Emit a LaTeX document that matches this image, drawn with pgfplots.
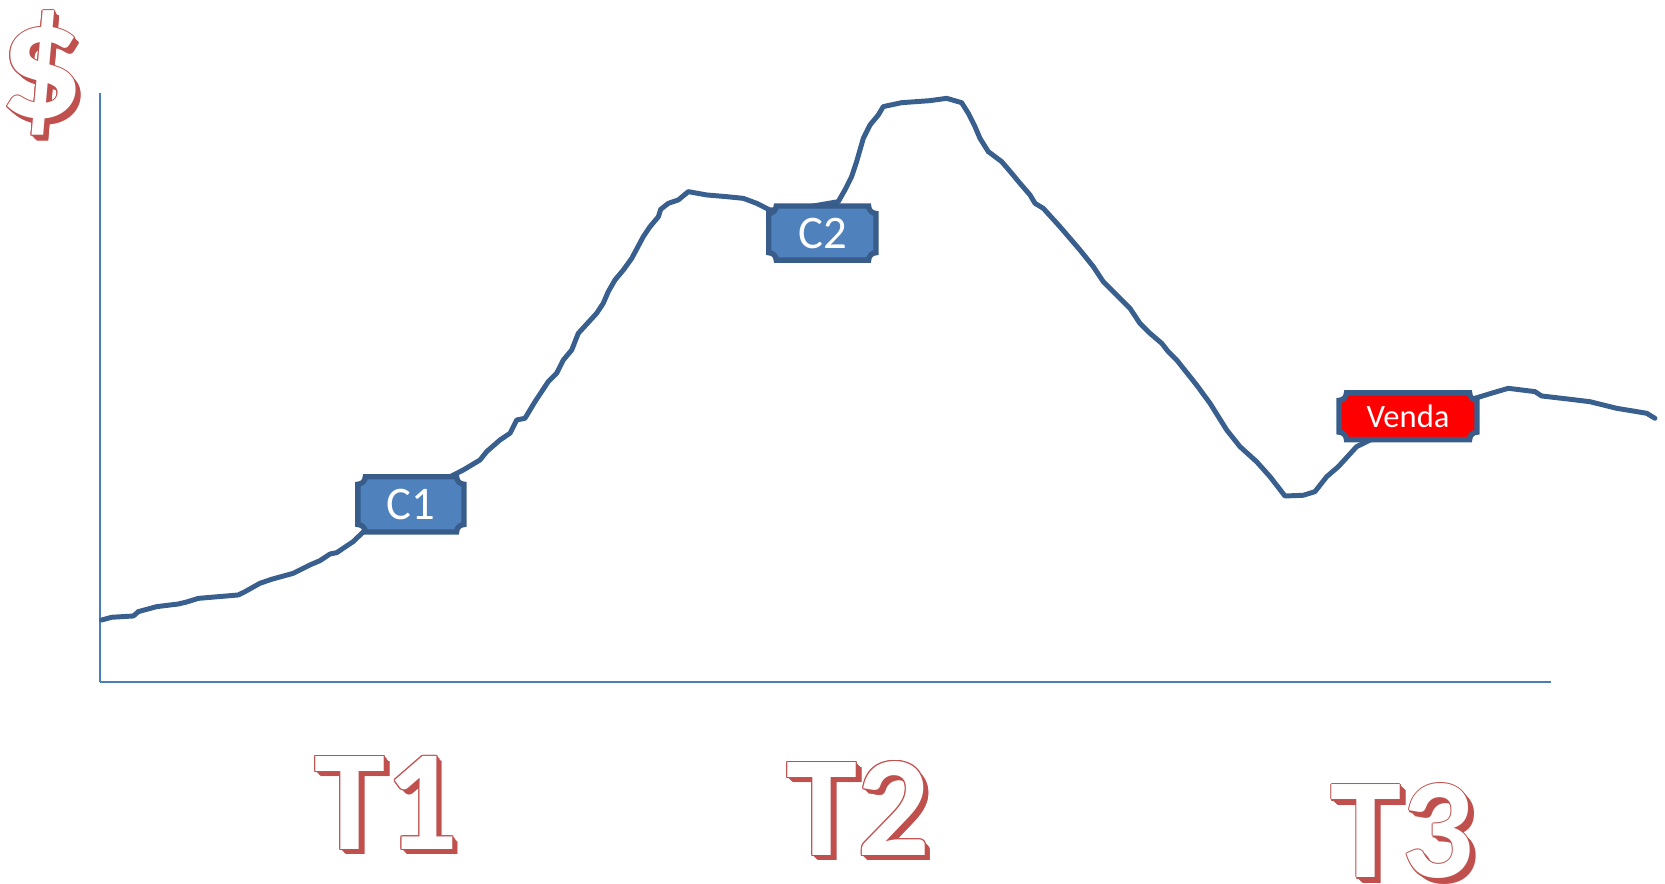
\documentclass[border=0pt]{standalone}
\usepackage{pgfplots}
\pgfplotsset{compat=1.18}
\usepackage{fontspec}
\setmainfont{Carlito}
\usetikzlibrary{calc}

\definecolor{lineblue}{RGB}{57,95,142}
\definecolor{boxline}{RGB}{56,93,138}
\definecolor{boxfill}{RGB}{79,129,189}
\definecolor{axisblue}{RGB}{74,126,187}
\definecolor{labelred}{RGB}{192,80,77}

% plaque-shaped tag: corners cut by concave quarter circles
\newcommand{\plaque}[4]{%
  \def\r{2.1pt}%
  \path[draw=boxline, line width=1.5pt, fill=#3]
    ($(#1|-#2)+(\r,0)$) -- ($(#2)-(\r,0)$)
    arc[start angle=180, end angle=270, radius=\r]
    -- ($(#2|-#1)+(0,\r)$)
    arc[start angle=90, end angle=180, radius=\r]
    -- ($(#1)+(\r,0)$)
    arc[start angle=0, end angle=90, radius=\r]
    -- ($(#1|-#2)-(0,\r)$)
    arc[start angle=270, end angle=360, radius=\r] -- cycle;
  \node[inner sep=0pt, text=white] at ($(#1)!0.5!(#2)$) {#4};
}

% white outlined lettering with an extruded red shadow
\newcommand{\outlined}[3]{%
  \foreach \d in {0.15,0.3,...,1.65}
    \node[inner sep=0pt, text=labelred, font=#2] at ([shift={(\d pt,-\d pt)}]#1) {#3};
  \foreach \a in {0,45,...,315}
    \node[inner sep=0pt, text=labelred, font=#2] at ([shift={(\a:0.3pt)}]#1) {#3};
  \node[inner sep=0pt, text=white, font=#2] at (#1) {#3};
}

\begin{document}
\begin{tikzpicture}
\begin{axis}[
  x=0.3pt, y=0.3pt,
  xmin=94, xmax=1461, ymin=0, ymax=554,
  axis lines=left,
  axis line style={draw=axisblue, line width=0.45pt, -},
  xtick=\empty, ytick=\empty,
  clip=false,
]
\addplot[lineblue, line width=1.4pt, line join=round, line cap=round] coordinates {
  (95.7,58.1) (105.2,60.7) (125.6,61.9) (130.3,66) (147.5,70.7)
  (168,73.2) (175.8,75.1) (186.8,78.5) (224.4,81.7) (230.7,84.8)
  (244.8,92.7) (255.9,96.5) (276.2,102.1) (291.9,110) (301.3,114)
  (310.8,120.3) (317,121.5) (332.7,132) (343,142) (380,167)
  (423.8,193.1) (436.3,199.4) (452,208.8) (458.3,216.7) (470.9,227.7)
  (480.3,234) (486.6,246.5) (494.4,248.1) (503.8,263.7) (516.3,282.6)
  (524.2,290.5) (530.5,303) (538.4,312.4) (544.6,328.1) (561.9,347)
  (568.1,356.4) (572.8,367.3) (579.1,378.3) (587,387.7) (594.9,398.7)
  (605.8,419.1) (612.1,428.5) (620,437.9) (622.2,444.9) (629.4,450.5)
  (638.8,453.7) (648.2,461.5) (665.5,458.4) (684.3,456.8) (700,455.2)
  (712.6,450.5) (725.1,444.2) (760,447) (789.4,452.1) (795.7,463.1)
  (802,475.6) (806.7,489.8) (813,511.7) (819.3,524.3) (827.1,533.7)
  (831.8,541.6) (849.1,545.3) (875.8,547.2) (891.5,549.4) (905.6,545.3)
  (911.9,535.3) (918.2,522.7) (922.9,511.7) (930.7,499.2) (943.3,489.8)
  (952.7,478.8) (960.5,469.4) (970,458.4) (974.7,450.5) (982.5,445.8)
  (998.2,428.5) (1017,406.6) (1029.6,390.9) (1039,376.7) (1051.6,364.2)
  (1064.1,351.7) (1073.5,337.5) (1083,328.1) (1094,318.7) (1100.2,310.8)
  (1108.1,303) (1126.9,279.4) (1139.5,262.2) (1155.2,237.1) (1167.7,221.4)
  (1183.4,207.2) (1196,193.1) (1210.1,174.9) (1227.4,175.6) (1238.3,179)
  (1249.4,193.1) (1260.3,202.5) (1277.6,221.4) (1330,247) (1389,266.9)
  (1406.3,272.2) (1420.4,276.3) (1445.5,273.2) (1451.8,269.1) (1478.5,266)
  (1497.3,263.7) (1522.4,257.5) (1550.7,252.8) (1558.5,248.1)
};
% tag corners and label anchors
\coordinate (c1a) at (axis cs:337,141);
\coordinate (c1b) at (axis cs:437,193);
\coordinate (c2a) at (axis cs:724,397);
\coordinate (c2b) at (axis cs:825,448);
\coordinate (va) at (axis cs:1261,228);
\coordinate (vb) at (axis cs:1391,272);
\coordinate (dollar) at (axis cs:39,573);
\coordinate (t1) at (axis cs:364,-114);
\coordinate (t2) at (axis cs:808.5,-119.5);
\coordinate (t3) at (axis cs:1321,-141);
\coordinate (BL) at (axis cs:0,-190);
\coordinate (TR) at (axis cs:1568,642);
\end{axis}
\pgfresetboundingbox
\path[use as bounding box] (BL) rectangle (TR);

\begingroup
\fontsize{13.2}{14}\selectfont
\plaque{c1a}{c1b}{boxfill}{C1}
\plaque{c2a}{c2b}{boxfill}{C2}
\endgroup
\begingroup
\fontsize{9.2}{10}\selectfont
\plaque{va}{vb}{red}{Venda}
\endgroup

\outlined{dollar}{\fontsize{47}{48}\selectfont\bfseries}{\$}
\outlined{t1}{\fontsize{40.5}{42}\selectfont\bfseries}{T1}
\outlined{t2}{\fontsize{40.5}{42}\selectfont\bfseries}{T2}
\outlined{t3}{\fontsize{40.5}{42}\selectfont\bfseries}{T3}
\end{tikzpicture}
\end{document}
